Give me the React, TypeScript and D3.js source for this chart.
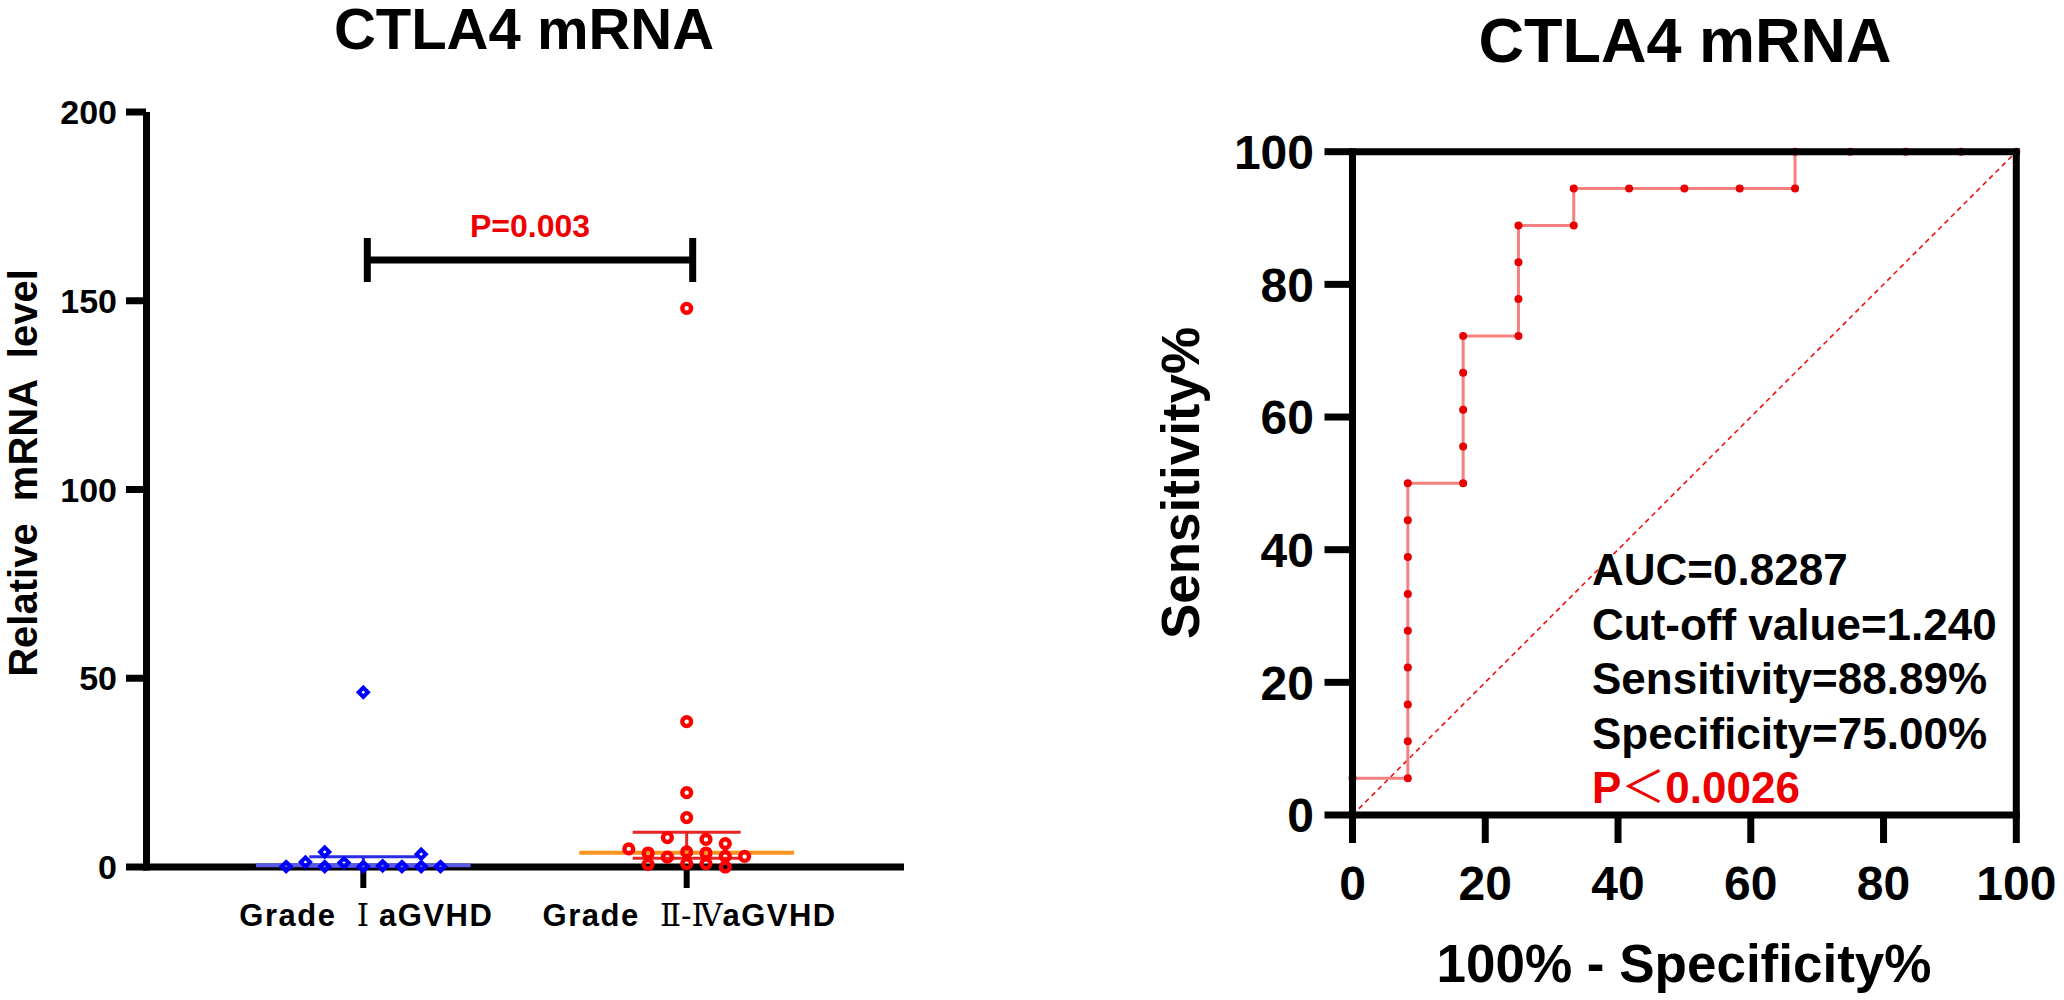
import React from "react";
import * as d3 from "d3";

// ---------- Data (left: scatter) ----------
const groups = ["G1", "G2"];
const groupLabelsA = ["Grade  ", "Grade  "];
const groupLabelsRoman = ["Ⅰ", "Ⅱ-Ⅳ"];
const groupLabelsB = [" aGVHD", "aGVHD"];
const yTicksLeft = [0, 50, 100, 150, 200];
// values, with their column slot in the scatter
const grade1Values = [0.1, 1.3, 4.0, 0.1, 1.1, 0.1, 46.3, 0.3, 0.1, 3.4, 0.1, 0.1];
const grade1Slots = [-4, -3, -2, -2, -1, 0, 0, 1, 2, 3, 3, 4];
const grade2Values = [148, 38.5, 19.7, 13.1, 4.0, 0.9, 7.8, 2.6, 7.3, 3.7, 0.9, 6.2, 2.8, 0.0, 4.8, 3.7, 0.7, 2.8];
const grade2Slots = [0, 0, 0, 0, 0, 0, -1, -1, 1, 1, 1, 2, 2, 2, -3, -2, -2, 3];
const medians = [0.45, 3.8];
const q1s = [0.1, 2.3];
const q3s = [2.7, 9.2];
const pText = "P=0.003";

// ---------- Data (right: ROC) ----------
const rocFpr = [0, 0, 8.333, 8.333, 8.333, 8.333, 8.333, 8.333, 8.333, 8.333, 8.333, 16.67, 16.67, 16.67, 16.67, 16.67, 25, 25, 25, 25, 33.33, 33.33, 41.67, 50, 58.33, 66.67, 66.67, 75, 83.33, 91.67, 100];
const rocTpr = [0, 5.556, 5.556, 11.11, 16.67, 22.22, 27.78, 33.33, 38.89, 44.44, 50, 50, 55.56, 61.11, 66.67, 72.22, 72.22, 77.78, 83.33, 88.89, 88.89, 94.44, 94.44, 94.44, 94.44, 94.44, 100, 100, 100, 100, 100];
const rocTicks = [0, 20, 40, 60, 80, 100];
const rocNotes = ["AUC=0.8287", "Cut-off value=1.240", "Sensitivity=88.89%", "Specificity=75.00%"];
const rocPNoteA = "P";
const rocPNoteLt = "＜";
const rocPNoteB = "0.0026";

const FONT = "'Liberation Sans', Arial, Helvetica, sans-serif";
const CJK = "'Noto Sans CJK SC', 'Noto Sans CJK JP', sans-serif";
const ROMAN = "'DejaVu Serif', 'Liberation Serif', serif";

function LeftChart() {
  const y = d3.scaleLinear().domain([0, 200]).range([867, 112]);
  const x = d3.scalePoint<string>().domain(groups).range([146, 904]).padding(0.672);
  const step = x.step();
  const slotW = 19.3;
  const pts1 = grade1Values.map((v, i) => ({ cx: x("G1")! + grade1Slots[i] * slotW, cy: y(v) }));
  const pts2 = grade2Values.map((v, i) => ({ cx: x("G2")! + grade2Slots[i] * slotW, cy: y(v) }));
  const diamond = (cx: number, cy: number, r: number) =>
    `M${cx},${cy - r}L${cx + r},${cy}L${cx},${cy + r}L${cx - r},${cy}Z`;
  const medColors = ["#5a5ae6", "#f7931e"];
  const barColors = ["#2b2be8", "#e82424"];
  const bx1 = x("G1")! + 4;
  const bx2 = x("G2")! + 6;
  return (
    <g fontFamily={FONT} fontWeight="bold">
      <text x={524} y={49} fontSize={58} textAnchor="middle" fill="#000">CTLA4 mRNA</text>
      <text
        transform={`translate(37,${473}) rotate(-90)`}
        fontSize={40}
        textAnchor="middle"
        style={{ whiteSpace: "pre" }}
      >
        {"Relative  mRNA  level"}
      </text>
      {/* y axis */}
      <line x1={146.5} x2={146.5} y1={112} y2={870.5} stroke="#000" strokeWidth={7} />
      {yTicksLeft.map((t) => (
        <g key={t}>
          <line x1={126} x2={146} y1={y(t)} y2={y(t)} stroke="#000" strokeWidth={7} />
          <text x={117} y={y(t)} dy="0.36em" fontSize={34} textAnchor="end">{t}</text>
        </g>
      ))}
      {/* x axis */}
      <line x1={143} x2={904} y1={867} y2={867} stroke="#000" strokeWidth={7} />
      {groups.map((g, i) => (
        <g key={g}>
          <line x1={x(g)!} x2={x(g)!} y1={867} y2={888} stroke="#000" strokeWidth={6} />
          <text x={x(g)! + 3} y={926} fontSize={31} textAnchor="middle" letterSpacing={1.5} style={{ whiteSpace: "pre" }}>
            <tspan>{groupLabelsA[i]}</tspan>
            <tspan fontFamily={ROMAN} fontWeight="normal" letterSpacing={0}>{groupLabelsRoman[i]}</tspan>
            <tspan>{groupLabelsB[i]}</tspan>
          </text>
        </g>
      ))}
      {/* median & IQR */}
      {groups.map((g, i) => {
        const cx = x(g)!;
        return (
          <g key={"s" + g}>
            <line x1={cx - step * 0.167} x2={cx + step * 0.167} y1={y(q3s[i])} y2={y(q3s[i])} stroke={barColors[i]} strokeWidth={3} />
            <line x1={cx - step * 0.167} x2={cx + step * 0.167} y1={y(q1s[i])} y2={y(q1s[i])} stroke={barColors[i]} strokeWidth={3} />
            <line x1={cx} x2={cx} y1={y(q3s[i])} y2={y(q1s[i])} stroke={barColors[i]} strokeWidth={3} />
            <line x1={cx - step * 0.332} x2={cx + step * 0.332} y1={y(medians[i])} y2={y(medians[i])} stroke={medColors[i]} strokeWidth={4} />
          </g>
        );
      })}
      {pts1.map((p, i) => (
        <path key={"d" + i} d={diamond(p.cx, p.cy, 4.6)} fill="none" stroke="#0000ff" strokeWidth={4} strokeLinejoin="miter" />
      ))}
      {pts2.map((p, i) => (
        <circle key={"c" + i} cx={p.cx} cy={p.cy} r={4.4} fill="none" stroke="#ff0000" strokeWidth={4.4} />
      ))}
      {/* significance bracket */}
      <line x1={bx1} x2={bx2} y1={260} y2={260} stroke="#000" strokeWidth={7} />
      <line x1={bx1} x2={bx1} y1={238} y2={282} stroke="#000" strokeWidth={7} />
      <line x1={bx2} x2={bx2} y1={238} y2={282} stroke="#000" strokeWidth={7} />
      <text x={(bx1 + bx2) / 2} y={237} fontSize={32} textAnchor="middle" fill="#ee0000">{pText}</text>
    </g>
  );
}

function RightChart() {
  const x = d3.scaleLinear().domain([0, 100]).range([1352.5, 2016.3]);
  const y = d3.scaleLinear().domain([0, 100]).range([815, 151.7]);
  const line = d3
    .line<number>()
    .x((_, i) => x(rocFpr[i]))
    .y((_, i) => y(rocTpr[i]));
  const idx = rocFpr.map((_, i) => i);
  return (
    <g fontFamily={FONT} fontWeight="bold">
      <text x={1685} y={62} fontSize={63} textAnchor="middle">CTLA4 mRNA</text>
      <text transform={`translate(1199,${483}) rotate(-90)`} fontSize={53} textAnchor="middle">Sensitivity%</text>
      <text x={1684} y={982} fontSize={53} textAnchor="middle" style={{ whiteSpace: "pre" }}>{"100% - Specificity%"}</text>
      {/* diagonal */}
      <line x1={x(0)} y1={y(0)} x2={x(100)} y2={y(100)} stroke="#ee1111" strokeWidth={1.6} strokeDasharray="5,4" />
      {/* ROC curve */}
      <path d={line(idx) || ""} fill="none" stroke="#f48080" strokeWidth={3} />
      {idx.map((i) => (
        <circle key={i} cx={x(rocFpr[i])} cy={y(rocTpr[i])} r={4} fill="#e80000" />
      ))}
      {/* frame */}
      <line x1={x(0)} x2={x(0)} y1={y(100) - 3.5} y2={y(0) + 3.5} stroke="#000" strokeWidth={7} />
      <line x1={x(0) - 3.5} x2={x(100) + 3.5} y1={y(0)} y2={y(0)} stroke="#000" strokeWidth={7} />
      <line x1={x(0)} x2={x(100) + 3.5} y1={y(100)} y2={y(100)} stroke="#000" strokeWidth={7} />
      <line x1={x(100)} x2={x(100)} y1={y(100)} y2={y(0)} stroke="#000" strokeWidth={7} />
      {rocTicks.map((t) => (
        <g key={"y" + t}>
          <line x1={x(0) - 28} x2={x(0)} y1={y(t)} y2={y(t)} stroke="#000" strokeWidth={7} />
          <text x={1314} y={y(t)} dy="0.36em" fontSize={48} textAnchor="end">{t}</text>
        </g>
      ))}
      {rocTicks.map((t) => (
        <g key={"x" + t}>
          <line x1={x(t)} x2={x(t)} y1={y(0)} y2={y(0) + 28} stroke="#000" strokeWidth={7} />
          <text x={x(t)} y={900} fontSize={48} textAnchor="middle">{t}</text>
        </g>
      ))}
      {rocNotes.map((n, i) => (
        <text key={n} x={1592} y={585 + i * 54.5} fontSize={44} fill="#000">{n}</text>
      ))}
      <text x={1592} y={803} fontSize={44} fill="#ee0000">
        <tspan>{rocPNoteA}</tspan>
        <tspan fontFamily={CJK} fontWeight="normal">{rocPNoteLt}</tspan>
        <tspan>{rocPNoteB}</tspan>
      </text>
    </g>
  );
}

export default function App() {
  return (
    <svg
      width={2064}
      height={1000}
      viewBox="0 0 2064 1000"
      style={{ position: "absolute", left: 0, top: 0, background: "#fff" }}
    >
      <rect x={0} y={0} width={2064} height={1000} fill="#fff" />
      <LeftChart />
      <RightChart />
    </svg>
  );
}
